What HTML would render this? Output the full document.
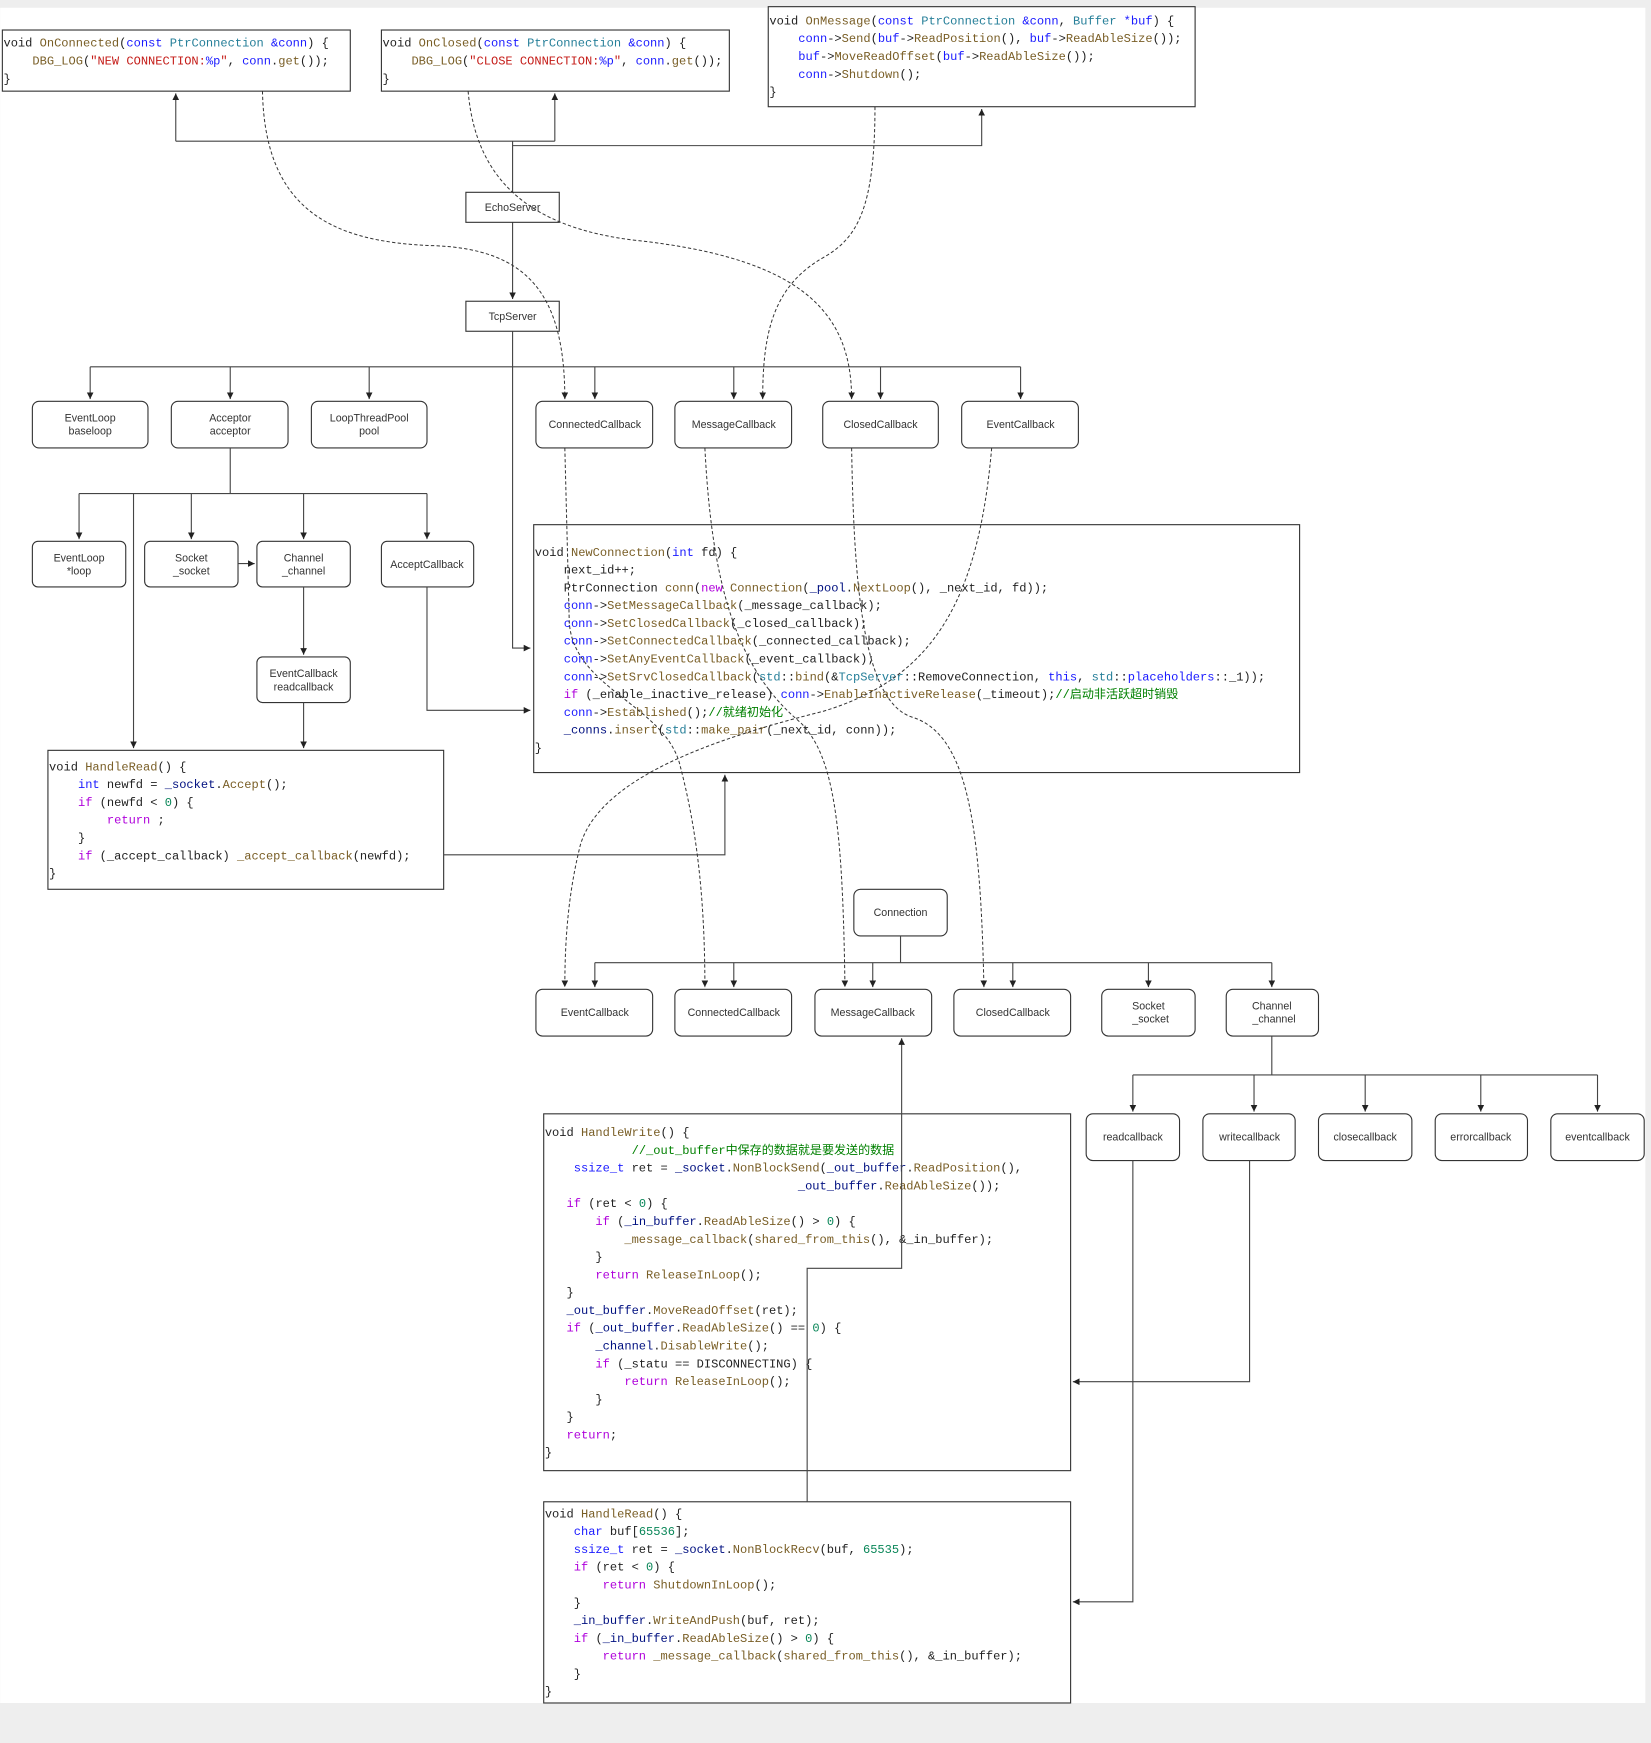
<!DOCTYPE html>
<html><head><meta charset="utf-8"><style>
html,body{margin:0;padding:0;background:#eeeeee;}
svg{display:block}
.c{font-family:"Liberation Mono","Noto Sans CJK SC",monospace;font-size:10.85px;fill:#222;white-space:pre}
.l{font-family:"Liberation Sans",sans-serif;font-size:9.6px;fill:#333;text-anchor:middle}
.k{fill:#1a1aff}.f{fill:#795e26}.t{fill:#267f99}.s{fill:#c41a16}.p{fill:#af00db}.n{fill:#098658}.m{fill:#008000}.v{fill:#001080}
.b{fill:#fff;stroke:#333;stroke-width:1}
.ln{fill:none;stroke:#444;stroke-width:1}
.d{fill:none;stroke:#333;stroke-width:0.9;stroke-dasharray:3 2}
</style></head><body>
<svg width="1651" height="1743" viewBox="0 0 1485 1568" xmlns="http://www.w3.org/2000/svg">
<defs><marker id="a" markerWidth="8" markerHeight="8" refX="6" refY="3" orient="auto" markerUnits="userSpaceOnUse"><path d="M0,0 L6,3 L0,6 Z" fill="#222"/></marker></defs>
<rect x="0" y="0" width="1485" height="1568" fill="#eeeeee"/>
<rect x="0" y="7" width="1480" height="1525" fill="#ffffff"/>

<rect class="b" x="2" y="27" width="313" height="55"/>
<text class="c" x="3" y="42">void <tspan class="f">OnConnected</tspan>(<tspan class="k">const</tspan> <tspan class="t">PtrConnection</tspan> <tspan class="k">&amp;conn</tspan>) {</text>
<text class="c" x="3" y="58">    <tspan class="f">DBG_LOG</tspan>(<tspan class="s">"NEW CONNECTION:</tspan><tspan class="k">%p</tspan><tspan class="s">"</tspan>, <tspan class="k">conn</tspan>.<tspan class="f">get</tspan>());</text>
<text class="c" x="3" y="74">}</text>

<rect class="b" x="343" y="27" width="313" height="55"/>
<text class="c" x="344" y="42">void <tspan class="f">OnClosed</tspan>(<tspan class="k">const</tspan> <tspan class="t">PtrConnection</tspan> <tspan class="k">&amp;conn</tspan>) {</text>
<text class="c" x="344" y="58">    <tspan class="f">DBG_LOG</tspan>(<tspan class="s">"CLOSE CONNECTION:</tspan><tspan class="k">%p</tspan><tspan class="s">"</tspan>, <tspan class="k">conn</tspan>.<tspan class="f">get</tspan>());</text>
<text class="c" x="344" y="74">}</text>

<rect class="b" x="691" y="6" width="384" height="90"/>
<text class="c" x="692" y="22">void <tspan class="f">OnMessage</tspan>(<tspan class="k">const</tspan> <tspan class="t">PtrConnection</tspan> <tspan class="k">&amp;conn</tspan>, <tspan class="t">Buffer</tspan> <tspan class="k">*buf</tspan>) {</text>
<text class="c" x="692" y="38">    <tspan class="k">conn</tspan>-&gt;<tspan class="f">Send</tspan>(<tspan class="k">buf</tspan>-&gt;<tspan class="f">ReadPosition</tspan>(), <tspan class="k">buf</tspan>-&gt;<tspan class="f">ReadAbleSize</tspan>());</text>
<text class="c" x="692" y="54">    <tspan class="k">buf</tspan>-&gt;<tspan class="f">MoveReadOffset</tspan>(<tspan class="k">buf</tspan>-&gt;<tspan class="f">ReadAbleSize</tspan>());</text>
<text class="c" x="692" y="70">    <tspan class="k">conn</tspan>-&gt;<tspan class="f">Shutdown</tspan>();</text>
<text class="c" x="692" y="86">}</text>

<path class="ln" d="M461,173 L461,127 M158,127 L499,127" />
<path class="ln" d="M158,127 L158,84" marker-end="url(#a)"/>
<path class="ln" d="M499,127 L499,84" marker-end="url(#a)"/>
<path class="ln" d="M461,131 L883,131 L883,98" marker-end="url(#a)"/>
<path class="ln" d="M461,200 L461,269" marker-end="url(#a)"/>

<rect class="b" x="419" y="173" width="84" height="27"/>
<text class="l" x="461" y="190">EchoServer</text>
<rect class="b" x="419" y="271" width="84" height="27"/>
<text class="l" x="461" y="288">TcpServer</text>

<path class="ln" d="M461,298 L461,583 L477,583" marker-end="url(#a)"/>
<path class="ln" d="M81,330 L918,330"/>
<path class="ln" d="M81,330 L81,359" marker-end="url(#a)"/>
<path class="ln" d="M207,330 L207,359" marker-end="url(#a)"/>
<path class="ln" d="M332,330 L332,359" marker-end="url(#a)"/>
<path class="ln" d="M535,330 L535,359" marker-end="url(#a)"/>
<path class="ln" d="M660,330 L660,359" marker-end="url(#a)"/>
<path class="ln" d="M792,330 L792,359" marker-end="url(#a)"/>
<path class="ln" d="M918,330 L918,359" marker-end="url(#a)"/>

<rect class="b" x="29" y="361" width="104" height="42" rx="6"/><text class="l" x="81" y="379">EventLoop</text><text class="l" x="81" y="391">baseloop</text>
<rect class="b" x="154" y="361" width="105" height="42" rx="6"/><text class="l" x="207" y="379">Acceptor</text><text class="l" x="207" y="391">acceptor</text>
<rect class="b" x="280" y="361" width="104" height="42" rx="6"/><text class="l" x="332" y="379">LoopThreadPool</text><text class="l" x="332" y="391">pool</text>
<rect class="b" x="482" y="361" width="105" height="42" rx="6"/><text class="l" x="535" y="385">ConnectedCallback</text>
<rect class="b" x="607" y="361" width="105" height="42" rx="6"/><text class="l" x="660" y="385">MessageCallback</text>
<rect class="b" x="740" y="361" width="104" height="42" rx="6"/><text class="l" x="792" y="385">ClosedCallback</text>
<rect class="b" x="865" y="361" width="105" height="42" rx="6"/><text class="l" x="918" y="385">EventCallback</text>

<path class="ln" d="M207,403 L207,444 M71,444 L384,444"/>
<path class="ln" d="M71,444 L71,485" marker-end="url(#a)"/>
<path class="ln" d="M172,444 L172,485" marker-end="url(#a)"/>
<path class="ln" d="M273,444 L273,485" marker-end="url(#a)"/>
<path class="ln" d="M384,444 L384,485" marker-end="url(#a)"/>
<path class="ln" d="M120,444 L120,673" marker-end="url(#a)"/>

<rect class="b" x="29" y="487" width="84" height="41" rx="5"/><text class="l" x="71" y="505">EventLoop</text><text class="l" x="71" y="517">*loop</text>
<rect class="b" x="130" y="487" width="84" height="41" rx="5"/><text class="l" x="172" y="505">Socket</text><text class="l" x="172" y="517">_socket</text>
<rect class="b" x="231" y="487" width="84" height="41" rx="5"/><text class="l" x="273" y="505">Channel</text><text class="l" x="273" y="517">_channel</text>
<rect class="b" x="343" y="487" width="83" height="41" rx="5"/><text class="l" x="384" y="511">AcceptCallback</text>
<path class="ln" d="M214,507 L229,507" marker-end="url(#a)"/>
<path class="ln" d="M273,528 L273,589" marker-end="url(#a)"/>
<rect class="b" x="231" y="591" width="84" height="41" rx="5"/><text class="l" x="273" y="609">EventCallback</text><text class="l" x="273" y="621">readcallback</text>
<path class="ln" d="M273,632 L273,673" marker-end="url(#a)"/>
<path class="ln" d="M384,528 L384,639 L477,639" marker-end="url(#a)"/>

<rect class="b" x="43" y="675" width="356" height="125"/>
<text class="c" x="44" y="693">void <tspan class="f">HandleRead</tspan>() {</text>
<text class="c" x="44" y="709">    <tspan class="k">int</tspan> newfd = <tspan class="v">_socket</tspan>.<tspan class="f">Accept</tspan>();</text>
<text class="c" x="44" y="725">    <tspan class="p">if</tspan> (newfd &lt; <tspan class="n">0</tspan>) {</text>
<text class="c" x="44" y="741">        <tspan class="p">return</tspan> ;</text>
<text class="c" x="44" y="757">    }</text>
<text class="c" x="44" y="773">    <tspan class="p">if</tspan> (_accept_callback) <tspan class="f">_accept_callback</tspan>(newfd);</text>
<text class="c" x="44" y="789">}</text>
<path class="ln" d="M399,769 L652,769 L652,697" marker-end="url(#a)"/>

<rect class="b" x="480" y="472" width="689" height="223"/>
<text class="c" x="481" y="500">void <tspan class="f">NewConnection</tspan>(<tspan class="k">int</tspan> fd) {</text>
<text class="c" x="481" y="516">    next_id++;</text>
<text class="c" x="481" y="532">    PtrConnection <tspan class="f">conn</tspan>(<tspan class="p">new</tspan> <tspan class="f">Connection</tspan>(<tspan class="v">_pool</tspan>.<tspan class="f">NextLoop</tspan>(), _next_id, fd));</text>
<text class="c" x="481" y="548">    <tspan class="k">conn</tspan>-&gt;<tspan class="f">SetMessageCallback</tspan>(_message_callback);</text>
<text class="c" x="481" y="564">    <tspan class="k">conn</tspan>-&gt;<tspan class="f">SetClosedCallback</tspan>(_closed_callback);</text>
<text class="c" x="481" y="580">    <tspan class="k">conn</tspan>-&gt;<tspan class="f">SetConnectedCallback</tspan>(_connected_callback);</text>
<text class="c" x="481" y="596">    <tspan class="k">conn</tspan>-&gt;<tspan class="f">SetAnyEventCallback</tspan>(_event_callback);</text>
<text class="c" x="481" y="612">    <tspan class="k">conn</tspan>-&gt;<tspan class="f">SetSrvClosedCallback</tspan>(<tspan class="t">std</tspan>::<tspan class="f">bind</tspan>(&amp;<tspan class="t">TcpServer</tspan>::RemoveConnection, <tspan class="k">this</tspan>, <tspan class="t">std</tspan>::<tspan class="k">placeholders</tspan>::_1));</text>
<text class="c" x="481" y="628">    <tspan class="p">if</tspan> (_enable_inactive_release) <tspan class="k">conn</tspan>-&gt;<tspan class="f">EnableInactiveRelease</tspan>(_timeout);<tspan class="m">//启动非活跃超时销毁</tspan></text>
<text class="c" x="481" y="644">    <tspan class="k">conn</tspan>-&gt;<tspan class="f">Established</tspan>();<tspan class="m">//就绪初始化</tspan></text>
<text class="c" x="481" y="660">    <tspan class="v">_conns</tspan>.<tspan class="f">insert</tspan>(<tspan class="t">std</tspan>::<tspan class="f">make_pair</tspan>(_next_id, conn));</text>
<text class="c" x="481" y="676">}</text>

<rect class="b" x="768" y="800" width="84" height="42" rx="6"/><text class="l" x="810" y="824">Connection</text>
<path class="ln" d="M810,842 L810,866 M535,866 L1144,866"/>
<path class="ln" d="M535,866 L535,888" marker-end="url(#a)"/>
<path class="ln" d="M660,866 L660,888" marker-end="url(#a)"/>
<path class="ln" d="M785,866 L785,888" marker-end="url(#a)"/>
<path class="ln" d="M911,866 L911,888" marker-end="url(#a)"/>
<path class="ln" d="M1033,866 L1033,888" marker-end="url(#a)"/>
<path class="ln" d="M1144,866 L1144,888" marker-end="url(#a)"/>

<rect class="b" x="482" y="890" width="105" height="42" rx="6"/><text class="l" x="535" y="914">EventCallback</text>
<rect class="b" x="607" y="890" width="105" height="42" rx="6"/><text class="l" x="660" y="914">ConnectedCallback</text>
<rect class="b" x="733" y="890" width="105" height="42" rx="6"/><text class="l" x="785" y="914">MessageCallback</text>
<rect class="b" x="858" y="890" width="105" height="42" rx="6"/><text class="l" x="911" y="914">ClosedCallback</text>
<rect class="b" x="991" y="890" width="84" height="42" rx="6"/><text class="l" x="1033" y="908">Socket</text><text class="l" x="1035" y="920">_socket</text>
<rect class="b" x="1103" y="890" width="83" height="42" rx="6"/><text class="l" x="1144" y="908">Channel</text><text class="l" x="1146" y="920">_channel</text>

<path class="ln" d="M1144,932 L1144,967 M1019,967 L1437,967"/>
<path class="ln" d="M1019,967 L1019,1000" marker-end="url(#a)"/>
<path class="ln" d="M1128,967 L1128,1000" marker-end="url(#a)"/>
<path class="ln" d="M1228,967 L1228,1000" marker-end="url(#a)"/>
<path class="ln" d="M1332,967 L1332,1000" marker-end="url(#a)"/>
<path class="ln" d="M1437,967 L1437,1000" marker-end="url(#a)"/>
<rect class="b" x="977" y="1002" width="84" height="42" rx="6"/><text class="l" x="1019" y="1026">readcallback</text>
<rect class="b" x="1082" y="1002" width="83" height="42" rx="6"/><text class="l" x="1124" y="1026">writecallback</text>
<rect class="b" x="1186" y="1002" width="84" height="42" rx="6"/><text class="l" x="1228" y="1026">closecallback</text>
<rect class="b" x="1291" y="1002" width="83" height="42" rx="6"/><text class="l" x="1332" y="1026">errorcallback</text>
<rect class="b" x="1395" y="1002" width="84" height="42" rx="6"/><text class="l" x="1437" y="1026">eventcallback</text>

<rect class="b" x="489" y="1002" width="474" height="321"/>
<text class="c" x="490" y="1022">void <tspan class="f">HandleWrite</tspan>() {</text>
<text class="c" x="490" y="1038">            <tspan class="m">//_out_buffer中保存的数据就是要发送的数据</tspan></text>
<text class="c" x="490" y="1054">    <tspan class="k">ssize_t</tspan> ret = <tspan class="v">_socket</tspan>.<tspan class="f">NonBlockSend</tspan>(<tspan class="v">_out_buffer</tspan>.<tspan class="f">ReadPosition</tspan>(),</text>
<text class="c" x="490" y="1070">                                   <tspan class="v">_out_buffer</tspan>.<tspan class="f">ReadAbleSize</tspan>());</text>
<text class="c" x="490" y="1086">   <tspan class="p">if</tspan> (ret &lt; <tspan class="n">0</tspan>) {</text>
<text class="c" x="490" y="1102">       <tspan class="p">if</tspan> (<tspan class="v">_in_buffer</tspan>.<tspan class="f">ReadAbleSize</tspan>() &gt; <tspan class="n">0</tspan>) {</text>
<text class="c" x="490" y="1118">           <tspan class="f">_message_callback</tspan>(<tspan class="f">shared_from_this</tspan>(), &amp;_in_buffer);</text>
<text class="c" x="490" y="1134">       }</text>
<text class="c" x="490" y="1150">       <tspan class="p">return</tspan> <tspan class="f">ReleaseInLoop</tspan>();</text>
<text class="c" x="490" y="1166">   }</text>
<text class="c" x="490" y="1182">   <tspan class="v">_out_buffer</tspan>.<tspan class="f">MoveReadOffset</tspan>(ret);</text>
<text class="c" x="490" y="1198">   <tspan class="p">if</tspan> (<tspan class="v">_out_buffer</tspan>.<tspan class="f">ReadAbleSize</tspan>() == <tspan class="n">0</tspan>) {</text>
<text class="c" x="490" y="1214">       <tspan class="v">_channel</tspan>.<tspan class="f">DisableWrite</tspan>();</text>
<text class="c" x="490" y="1230">       <tspan class="p">if</tspan> (_statu == DISCONNECTING) {</text>
<text class="c" x="490" y="1246">           <tspan class="p">return</tspan> <tspan class="f">ReleaseInLoop</tspan>();</text>
<text class="c" x="490" y="1262">       }</text>
<text class="c" x="490" y="1278">   }</text>
<text class="c" x="490" y="1294">   <tspan class="p">return</tspan>;</text>
<text class="c" x="490" y="1310">}</text>

<rect class="b" x="489" y="1351" width="474" height="181"/>
<text class="c" x="490" y="1365">void <tspan class="f">HandleRead</tspan>() {</text>
<text class="c" x="490" y="1381">    <tspan class="k">char</tspan> buf[<tspan class="n">65536</tspan>];</text>
<text class="c" x="490" y="1397">    <tspan class="k">ssize_t</tspan> ret = <tspan class="v">_socket</tspan>.<tspan class="f">NonBlockRecv</tspan>(buf, <tspan class="n">65535</tspan>);</text>
<text class="c" x="490" y="1413">    <tspan class="p">if</tspan> (ret &lt; <tspan class="n">0</tspan>) {</text>
<text class="c" x="490" y="1429">        <tspan class="p">return</tspan> <tspan class="f">ShutdownInLoop</tspan>();</text>
<text class="c" x="490" y="1445">    }</text>
<text class="c" x="490" y="1461">    <tspan class="v">_in_buffer</tspan>.<tspan class="f">WriteAndPush</tspan>(buf, ret);</text>
<text class="c" x="490" y="1477">    <tspan class="p">if</tspan> (<tspan class="v">_in_buffer</tspan>.<tspan class="f">ReadAbleSize</tspan>() &gt; <tspan class="n">0</tspan>) {</text>
<text class="c" x="490" y="1493">        <tspan class="p">return</tspan> <tspan class="f">_message_callback</tspan>(<tspan class="f">shared_from_this</tspan>(), &amp;_in_buffer);</text>
<text class="c" x="490" y="1509">    }</text>
<text class="c" x="490" y="1525">}</text>

<path class="ln" d="M1019,1044 L1019,1441 L965,1441" marker-end="url(#a)"/>
<path class="ln" d="M1124,1044 L1124,1243 L965,1243" marker-end="url(#a)"/>
<path class="ln" d="M726,1351 L726,1141 L811,1141 L811,934" marker-end="url(#a)"/>

<path class="d" d="M236,82 C238,190 300,218 390,221 C475,224 508,265 508,359" marker-end="url(#a)"/>
<path class="d" d="M421,82 C428,165 480,205 570,216 C720,232 766,280 766,359" marker-end="url(#a)"/>
<path class="d" d="M787,96 C787,190 770,215 740,232 C695,258 686,300 686,359" marker-end="url(#a)"/>
<path class="d" d="M508,403 L512,560 C516,620 600,635 612,690 C625,740 634,800 634,888" marker-end="url(#a)"/>
<path class="d" d="M634,403 C640,520 660,600 720,650 C750,680 758,740 760,888" marker-end="url(#a)"/>
<path class="d" d="M766,403 C768,520 775,630 820,645 C870,660 882,740 885,888" marker-end="url(#a)"/>
<path class="d" d="M892,403 C880,540 840,610 740,640 C640,665 540,700 522,760 C512,800 508,840 508,888" marker-end="url(#a)"/>
</svg>
</body></html>
